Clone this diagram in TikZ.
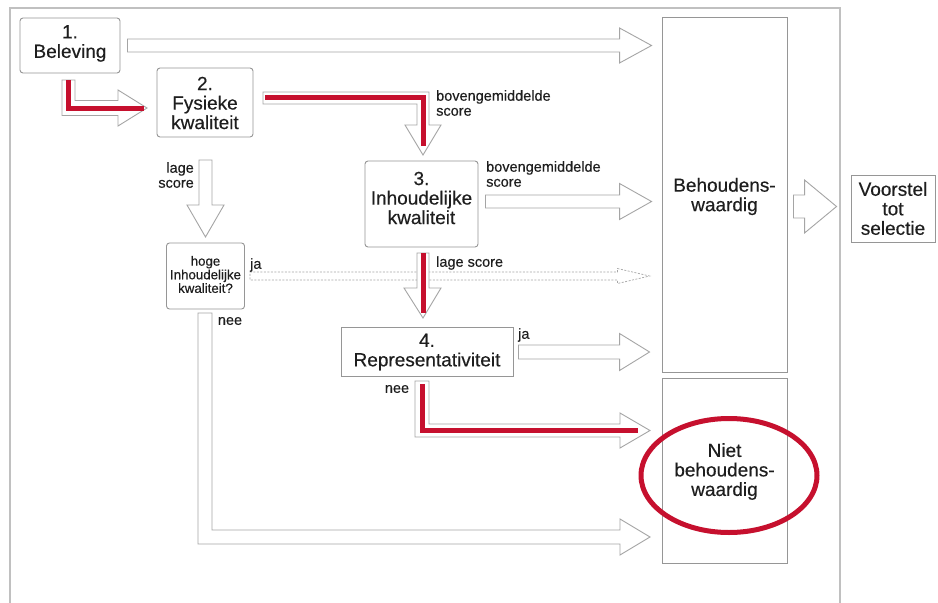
\documentclass[tikz,border=0pt]{standalone}
\usepackage{fontspec}
\setmainfont{Liberation Sans}[FakeBold=0.35]
\usetikzlibrary{calc}
\definecolor{frameg}{RGB}{192,192,192}
\definecolor{boxg}{RGB}{150,150,150}
\definecolor{arrg}{RGB}{165,165,165}
\definecolor{hred}{RGB}{198,16,46}
\definecolor{txt}{RGB}{30,30,30}
\tikzset{
  box/.style={draw=boxg, line width=0.9pt, fill=white, inner sep=0pt},
  rbox/.style={box, rounded corners=3pt},
  bigtxt/.style={text=txt, align=center, inner sep=0pt, font=\fontsize{19}{19.5}\selectfont},
  smalltxt/.style={text=txt, align=center, inner sep=0pt, font=\fontsize{13.3}{13.6}\selectfont},
  lbl/.style={text=txt, inner sep=0pt, font=\fontsize{14.5}{15}\selectfont},
  hollow/.style={draw=arrg, line width=0.9pt, fill=white, line join=miter},
  dotarrow/.style={draw=arrg, line width=0.7pt, dash pattern=on 2pt off 1.5pt},
  redline/.style={draw=hred, line width=5pt, line join=miter, line cap=butt},
}
\newcommand\harrow[6]{%
  \draw[#1] let \p1=(#2), \p2=(#3) in
    (\x1,\y1+#4pt) -- (\x2-#6pt,\y1+#4pt) -- (\x2-#6pt,\y1+#5pt) -- (\x2,\y1)
    -- (\x2-#6pt,\y1-#5pt) -- (\x2-#6pt,\y1-#4pt) -- (\x1,\y1-#4pt) -- cycle;}
\begin{document}
\begin{tikzpicture}[x=1pt,y=-1pt]
\useasboundingbox (0,0) rectangle (938,603);
\fill[white] (0,0) rectangle (938,603);
% outer frame
\draw[frameg, line width=1.4pt] (10,610) -- (10,8) -- (840,8) -- (840,610);

% boxes
\node[rbox, minimum width=100pt, minimum height=55pt] (b1) at (70,45.5) {};
\node[rbox, minimum width=96pt, minimum height=69pt] (b2) at (205,102.5) {};
\node[rbox, minimum width=113pt, minimum height=86pt] (b3) at (421.5,204) {};
\node[rbox, minimum width=78pt, minimum height=66pt] (hq) at (205.5,276) {};
\node[box, minimum width=172pt, minimum height=49pt] (b4) at (427,351.5) {};
\node[box, minimum width=125pt, minimum height=355pt] (beh) at (724.5,194.5) {};
\node[box, minimum width=125pt, minimum height=185pt] (niet) at (724.5,470.5) {};
\node[box, minimum width=84pt, minimum height=67pt] (vs) at (893,208.5) {};

% box texts
\node[bigtxt] (b1t) at (70,43.5) {1.\\Beleving};
\node[bigtxt] (b2t) at (205,103) {2.\\Fysieke\\kwaliteit};
\node[bigtxt] (b3t) at (421.5,198) {3.\\Inhoudelijke\\kwaliteit};
\node[smalltxt] (hqt) at (205.5,274.5) {hoge\\Inhoudelijke\\kwaliteit?};
\node[bigtxt] (b4t) at (427,352) {4.\\Representativiteit};
\node[bigtxt] (beht) at (724.5,196.5) {Behoudens-\\waardig};
\node[bigtxt] (niett) at (724.5,471.5) {Niet\\behoudens-\\waardig};
\node[bigtxt] (vst) at (893,208.5) {Voorstel\\tot\\selectie};

% straight hollow arrows
\harrow{hollow}{$(b1.east)+(7,0)$}{$(beh.west)+(-10,0)$}{6.5}{17.5}{32}
\harrow{hollow}{$(b3.east)+(7,-2.5)$}{$(beh.west)+(-10,0)$}{6.5}{18}{32}
\harrow{dotarrow}{$(hq.east)+(5,0)$}{$(beh.west)+(-12,0)$}{4}{7.5}{32}
\harrow{hollow}{$(b4.east)+(5,0.5)$}{$(beh.west)+(-12,0)$}{7}{18.5}{30}
\harrow{hollow}{$(beh.east)+(6,12)$}{$(vs.west)+(-14,0)$}{11.5}{26.5}{32}

% L-shaped and vertical hollow arrows
\draw[hollow] (62,80) -- (62,115.5) -- (118,115.5) -- (118,126) -- (147,108) -- (118,90) -- (118,100.5) -- (75,100.5) -- (75,80) -- cycle;
\draw[hollow] (263,92) -- (429,92) -- (429,125) -- (441,125) -- (423,155) -- (405,125) -- (417,125) -- (417,104) -- (263,104) -- cycle;
\draw[hollow] (199,160) -- (212,160) -- (212,205) -- (224,205) -- (205.5,237) -- (187,205) -- (199,205) -- cycle;
\draw[hollow] (417,253) -- (429,253) -- (429,288) -- (441,288) -- (423,318) -- (404,288) -- (417,288) -- cycle;
\draw[hollow] (415,381) -- (429,381) -- (429,424) -- (620,424) -- (620,413) -- (650,430.5) -- (620,448) -- (620,437) -- (415,437) -- cycle;
\draw[hollow] (198,313) -- (212,313) -- (212,530) -- (620,530) -- (620,519) -- (650,537) -- (620,555) -- (620,544) -- (198,544) -- cycle;

% red path
\draw[redline] (68.5,80) -- (68.5,108) -- (144,108);
\draw[redline] (265,97.5) -- (423,97.5) -- (423,146);
\draw[redline] (423,253) -- (423,313);
\draw[redline] (422,384) -- (422,430.5) -- (638,430.5);
\draw[hred, line width=5pt] (729,475.5) ellipse [x radius=88, y radius=57];

% labels
\node[lbl, align=left, anchor=north west] (l1) at (436,90) {bovengemiddelde\\score};
\node[lbl, align=left, anchor=north west] (l2) at (486,161) {bovengemiddelde\\score};
\node[lbl, align=right, anchor=north east] (l3) at (194,162) {lage\\score};
\node[lbl, anchor=west] (l4) at (436,263) {lage score};
\node[lbl, anchor=west] (l5) at (250,265) {ja};
\node[lbl, anchor=west] (l6) at (518,335) {ja};
\node[lbl] (l7) at (230,321) {nee};
\node[lbl] (l8) at (397,389) {nee};
\end{tikzpicture}
\end{document}
